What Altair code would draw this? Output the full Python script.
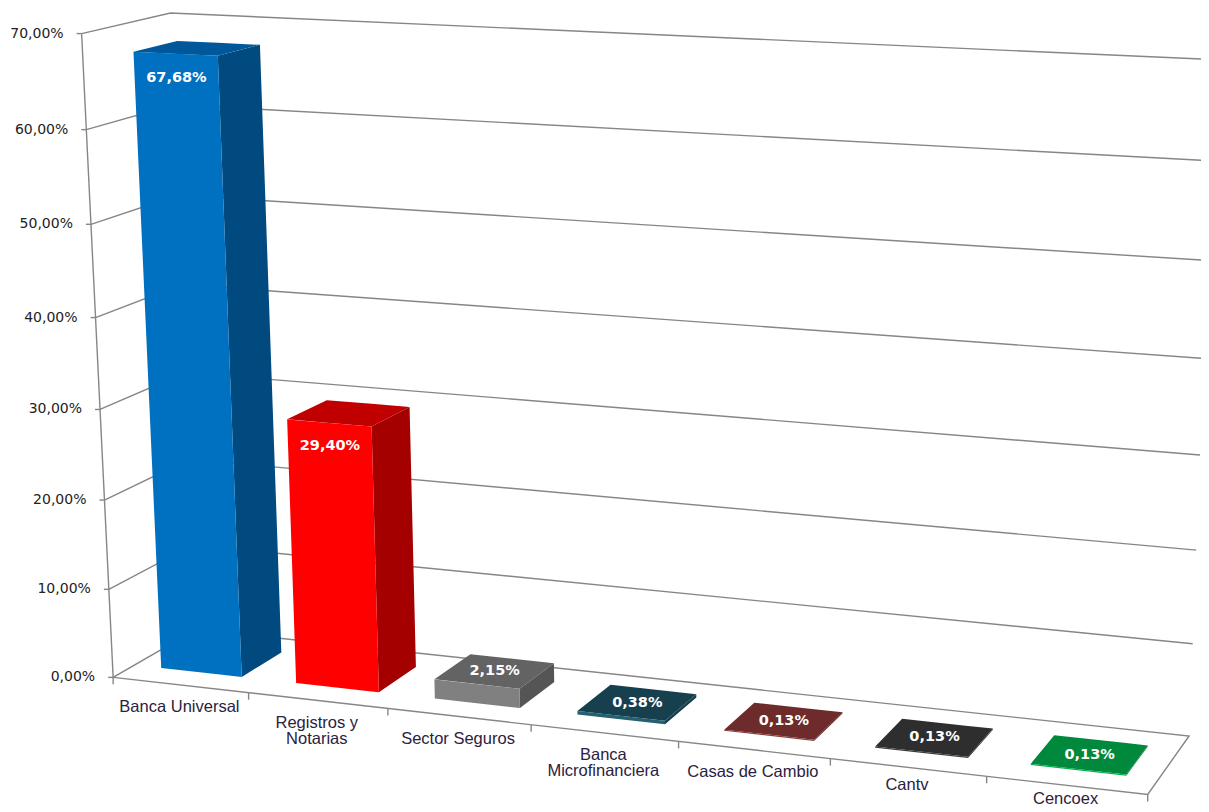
import altair as alt
import numpy as np
import pandas as pd

# ---- chart values -------------------------------------------------------
categories = [["Banca Universal"], ["Registros y", "Notarias"], ["Sector Seguros"],
              ["Banca", "Microfinanciera"], ["Casas de Cambio"], ["Cantv"], ["Cencoex"]]
values = [67.68, 29.40, 2.15, 0.38, 0.13, 0.13, 0.13]
value_labels = ["67,68%", "29,40%", "2,15%", "0,38%", "0,13%", "0,13%", "0,13%"]
axis_ticks = [0, 10, 20, 30, 40, 50, 60, 70]
axis_labels = ["0,00%", "10,00%", "20,00%", "30,00%", "40,00%", "50,00%", "60,00%", "70,00%"]

# ---- colours (front, side, top) ----------------------------------------
front = ["#0070C0", "#FF0000", "#808080", "#24606F", "#8A3A3A", "#3C3C3C", "#00B050"]
side = ["#004A80", "#A50000", "#555555", "#163F4D", "#5F2525", "#262626", "#007A38"]
top = ["#00589A", "#C00000", "#636363", "#17404F", "#6D2B2B", "#2E2E2E", "#00893D"]

# ---- camera: category position u, depth d, value h -> page pixel -------
calibration = [
    (0, 0, 0, 113, 677), (1, 0, 0, 249, 693), (2, 0, 0, 388, 708), (3, 0, 0, 532, 725),
    (4, 0, 0, 678, 742), (5, 0, 0, 831, 760), (6, 0, 0, 986, 776), (7, 0, 0, 1148, 793),
    (7, 1, 0, 1188, 736), (0, 1, 0, 197, 629), (0, 0, 70, 82, 33), (0, 1, 70, 170, 13),
    (0, 0, 60, 87, 130), (0, 0, 50, 91, 226), (0, 0, 40, 95, 317), (0, 0, 30, 100, 409),
    (0, 0, 20, 104, 500), (0, 0, 10, 108, 589), (7, 1, 10, 1193, 645), (7, 1, 20, 1197, 550),
    (7, 1, 30, 1200, 455), (7, 1, 40, 1204, 358), (7, 1, 50, 1207, 260),
]
rows = []
for u, d, h, px, py in calibration:
    rows.append([u, d, h, 1, 0, 0, 0, 0, -px * u, -px * d, -px * h, -px])
    rows.append([0, 0, 0, 0, u, d, h, 1, -py * u, -py * d, -py * h, -py])
_, _, vt = np.linalg.svd(np.array(rows, float))
P = vt[-1].reshape(3, 4)


def project(u, d, h):
    x, y, w = P @ np.array([u, d, h, 1.0])
    return float(x / w), float(y / w)


GAP, D0, D1 = 0.2, 0.25, 0.75


def polygon_rows(name, colour, poly):
    vertex_x = sorted({p[0] for p in poly})
    n = len(poly)
    out = []
    for x in vertex_x:
        ys_ = []
        for i in range(n):
            (x0, y0), (x1, y1) = poly[i], poly[(i + 1) % n]
            if min(x0, x1) <= x <= max(x0, x1):
                if x0 == x1:
                    ys_ += [y0, y1]
                else:
                    ys_.append(y0 + (y1 - y0) * (x - x0) / (x1 - x0))
        out.append({"face": name, "fill": colour, "x": x, "y": min(ys_), "y2": max(ys_)})
    return out


faces = []
for i, v in enumerate(values):
    a, b = i + GAP, i + 1 - GAP
    faces += polygon_rows(f"{i}-side", side[i], [project(b, D0, 0), project(b, D1, 0), project(b, D1, v), project(b, D0, v)])
    faces += polygon_rows(f"{i}-top", top[i], [project(a, D0, v), project(b, D0, v), project(b, D1, v), project(a, D1, v)])
    faces += polygon_rows(f"{i}-front", front[i], [project(a, D0, 0), project(b, D0, 0), project(b, D0, v), project(a, D0, v)])

lines = []


def add_line(name, points):
    for k, (x, y) in enumerate(points):
        lines.append({"line": name, "k": k, "x": x, "y": y})


for h in axis_ticks[1:]:
    add_line(f"grid{h}", [project(0, 0, h), project(0, 1, h), project(7, 1, h)])

add_line("floor", [project(0, 1, 0), project(0, 0, 0), project(7, 0, 0), project(7, 1, 0), project(0, 1, 0)])
add_line("axis", [project(0, 0, 0), project(0, 0, 70)])
for h in axis_ticks:
    x, y = project(0, 0, h)
    add_line(f"ytick{h}", [(x - 5, y), (x, y)])
for u in range(8):
    x, y = project(u, 0, 0)
    add_line(f"xtick{u}", [(x, y), (x, y + 7)])

tick_text = []
for h, lab in zip(axis_ticks, axis_labels):
    x, y = project(0, 0, h)
    tick_text.append({"x": x - 18, "y": y, "t": lab})

cat_text = []
for i, cat in enumerate(categories):
    x, y = project(i + 0.5, 0, 0)
    lift = {"Cantv": 4, "Cencoex": 8}.get(cat[0], 0)
    for j, line in enumerate(cat):
        cat_text.append({"x": x - 1, "y": y + 22 - lift + 16 * j, "t": line})

val_text = []
for i, (v, lab) in enumerate(zip(values, value_labels)):
    if v > 10:
        x, y = project(i + 0.5, D0, v - 2.5)
    else:
        x, y = project(i + 0.5, 0.5, v)
    val_text.append({"x": x, "y": y, "t": lab})


def shift(rows_, keys=("x", "y", "y2")):
    df = pd.DataFrame(rows_)
    for key in keys:
        if key in df:
            df[key] = df[key] - 8
    return df


W, H = 1193, 796
xs = alt.Scale(domain=[0, W], nice=False, zero=False)
ys = alt.Scale(domain=[H, 0], nice=False, zero=False)
X = alt.X("x:Q", scale=xs, axis=None)
Y = alt.Y("y:Q", scale=ys, axis=None)

line_layer = alt.Chart(shift(lines)).mark_line(color="#868686", strokeWidth=1.4, clip=True).encode(
    x=X, y=Y, detail="line:N", order="k:Q")
face_layer = alt.Chart(shift(faces)).mark_area(clip=True, interpolate="linear").encode(
    x=X, y=Y, y2="y2:Q", detail="face:N", color=alt.Color("fill:N", scale=None))
tick_layer = alt.Chart(shift(tick_text)).mark_text(
    font="DejaVu Sans", fontSize=14, align="right", baseline="middle", color="#222222").encode(x=X, y=Y, text="t:N")
cat_layer = alt.Chart(shift(cat_text)).mark_text(
    font="Liberation Sans", fontSize=16.5, align="center", baseline="middle", color="#2B2140").encode(x=X, y=Y, text="t:N")
val_layer = alt.Chart(shift(val_text)).mark_text(
    font="DejaVu Sans", fontWeight="bold", fontSize=14.5, align="center", baseline="middle", color="#FFFFFF").encode(x=X, y=Y, text="t:N")

chart = alt.layer(line_layer, face_layer, tick_layer, cat_layer, val_layer).properties(
    width=W, height=H, padding=0, background="#FFFFFF",
).configure_view(stroke=None)

chart.save("out.html", embed_options={"renderer": "svg", "actions": False})
